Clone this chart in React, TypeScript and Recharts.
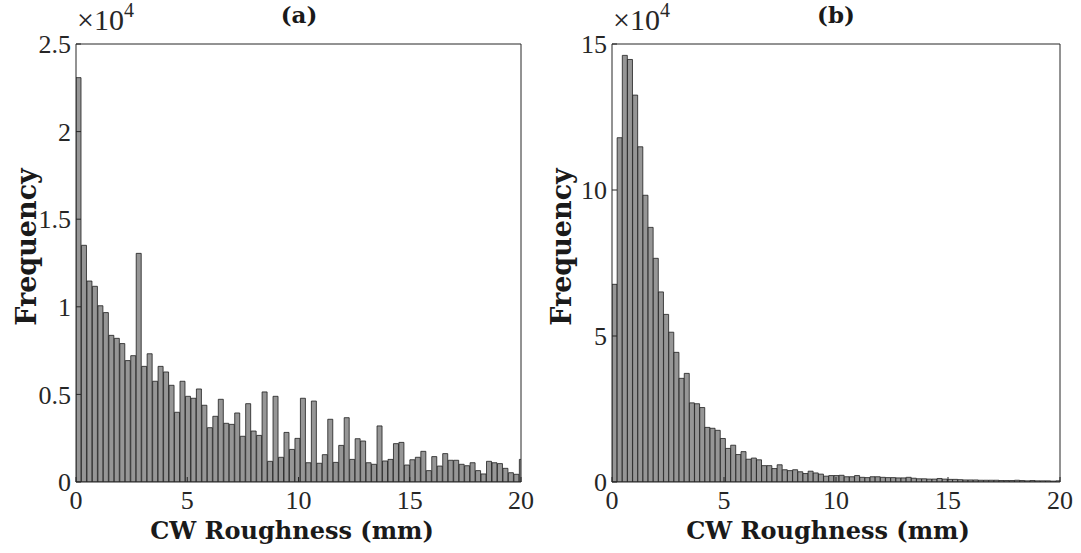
import { BarChart, Bar, XAxis, YAxis } from 'recharts'

// histogram (a): bin width in mm and counts per bin, starting at 0
const binWidthA = 0.246
const countsA = [
  23080, 13510, 11470, 11170, 10060, 9670, 8370, 8200, 7900, 6930,
  7210, 13050, 6600, 7320, 5750, 6600, 6280, 5520, 3980, 5750,
  4890, 4780, 5310, 4380, 3100, 3750, 4720, 3350, 3290, 3940,
  2610, 4470, 2910, 2660, 5140, 1180, 4890, 1410, 2830, 1860,
  2490, 4780, 1100, 4620, 1070, 1560, 3580, 1120, 2090, 3670,
  1290, 2470, 2340, 1100, 1010, 3200, 1200, 1290, 2190, 2260,
  970, 1270, 1410, 1750, 650, 1450, 910, 1620, 1240, 1240,
  1010, 930, 1100, 650, 460, 1180, 1100, 1050, 780, 530,
  440, 1290,
]

// histogram (b)
const binWidthB = 0.2304
const countsB = [
  67700, 117900, 146100, 144700, 132500, 114800, 98200, 87200, 76600, 65100,
  57400, 51300, 44400, 35500, 37200, 27100, 26800, 25500, 18700, 18400,
  17700, 14900, 11500, 12600, 9400, 10400, 7800, 8200, 7600, 5600,
  5600, 4600, 5900, 4200, 3900, 4200, 3500, 2900, 3700, 3100,
  2700, 2000, 2200, 2200, 2300, 1800, 1800, 2200, 1600, 1500,
  1800, 1800, 1600, 1500, 1500, 1400, 1400, 1600, 1300, 1100,
  1100, 1000, 1000, 1200, 1000, 900, 900, 800, 700, 700,
  700, 600, 600, 600, 600, 500, 500, 500, 600, 500,
  400, 500, 400, 400, 400, 300, 400,
]

const xTicks = [0, 5, 10, 15, 20]
const yTicksA = [0, 5000, 10000, 15000, 20000, 25000]
const yTicksB = [0, 50000, 100000, 150000]

const toBins = (counts: number[], w: number) =>
  counts.map((c, i) => ({ x: (i + 0.5) * w, count: c }))

const axisColor = '#262626'
const tickFont = { fontFamily: '"Liberation Serif", serif', fontSize: 26, fill: axisColor }
const boldFont = '"DejaVu Serif", serif'

function Histogram({ data, yTicks, yMax, left, width, plotLeft, plotRight }: any) {
  return (
    <div style={{ position: 'absolute', left, top: 0, width, height: 553 }}>
      <BarChart
        width={width}
        height={553}
        data={data}
        margin={{ top: 43, right: width - plotRight - 1, bottom: 0, left: 0 }}
        barCategoryGap={0}
        barGap={0}
      >
        <XAxis
          dataKey="x"
          type="number"
          domain={[0, 20]}
          ticks={xTicks}
          allowDataOverflow
          height={71}
          tickSize={-5}
          tickMargin={14}
          stroke={axisColor}
          tick={tickFont}
        />
        <XAxis
          xAxisId="top"
          dataKey="x"
          orientation="top"
          type="number"
          domain={[0, 20]}
          ticks={xTicks}
          allowDataOverflow
          height={1}
          tickSize={-5}
          tick={false}
          stroke={axisColor}
        />
        <YAxis
          type="number"
          domain={[0, yMax]}
          ticks={yTicks}
          allowDataOverflow
          width={plotLeft}
          tickSize={-5}
          tickMargin={10}
          stroke={axisColor}
          tick={tickFont}
          tickFormatter={(v) => String(v / 10000)}
        />
        <YAxis
          yAxisId="right"
          orientation="right"
          type="number"
          domain={[0, yMax]}
          ticks={yTicks}
          allowDataOverflow
          width={1}
          tickSize={-5}
          tick={false}
          stroke={axisColor}
        />
        <Bar dataKey="count" fill="#969696" stroke="#1e1e1e" strokeWidth={0.8} isAnimationActive={false} />
        {/* invisible copy so the top/right axes are drawn as a box */}
        <Bar xAxisId="top" yAxisId="right" dataKey="count" fill="none" stroke="none" isAnimationActive={false} />
      </BarChart>
    </div>
  )
}

const labelStyle: any = {
  position: 'absolute',
  fontFamily: boldFont,
  fontWeight: 'bold',
  color: '#1a1a1a',
  whiteSpace: 'nowrap',
}

function Exponent({ left }: { left: number }) {
  return (
    <div style={{ position: 'absolute', left, top: 4, fontFamily: '"Liberation Serif", serif', fontSize: 30, lineHeight: '32px', color: axisColor, whiteSpace: 'nowrap' }}>
      ×10<sup style={{ fontSize: 20, lineHeight: '20px', verticalAlign: 'top', position: 'relative', top: -4 }}>4</sup>
    </div>
  )
}

export default function App() {
  const dataA = toBins(countsA, binWidthA)
  const dataB = toBins(countsB, binWidthB)

  return (
    <div style={{ position: 'absolute', left: 0, top: 0, width: 1081, height: 553, background: '#fff', overflow: 'hidden' }}>
      <Histogram data={dataA} yTicks={yTicksA} yMax={25000} left={0} width={540} plotLeft={76} plotRight={521} />
      <Histogram data={dataB} yTicks={yTicksB} yMax={150000} left={540} width={541} plotLeft={72} plotRight={520} />

      <Exponent left={77} />
      <Exponent left={613} />

      <div style={{ ...labelStyle, left: 299, top: 1, fontSize: 23, transform: 'translateX(-50%)' }}>(a)</div>
      <div style={{ ...labelStyle, left: 836, top: 1, fontSize: 23, transform: 'translateX(-50%)' }}>(b)</div>

      <div style={{ ...labelStyle, left: 292, top: 516, fontSize: 24, lineHeight: '30px', transform: 'translateX(-50%)' }}>CW Roughness (mm)</div>
      <div style={{ ...labelStyle, left: 828, top: 516, fontSize: 24, lineHeight: '30px', transform: 'translateX(-50%)' }}>CW Roughness (mm)</div>

      <div style={{ ...labelStyle, left: 26, top: 247, fontSize: 27, transform: 'translate(-50%, -50%) rotate(-90deg)' }}>Frequency</div>
      <div style={{ ...labelStyle, left: 561, top: 247, fontSize: 27, transform: 'translate(-50%, -50%) rotate(-90deg)' }}>Frequency</div>
    </div>
  )
}
